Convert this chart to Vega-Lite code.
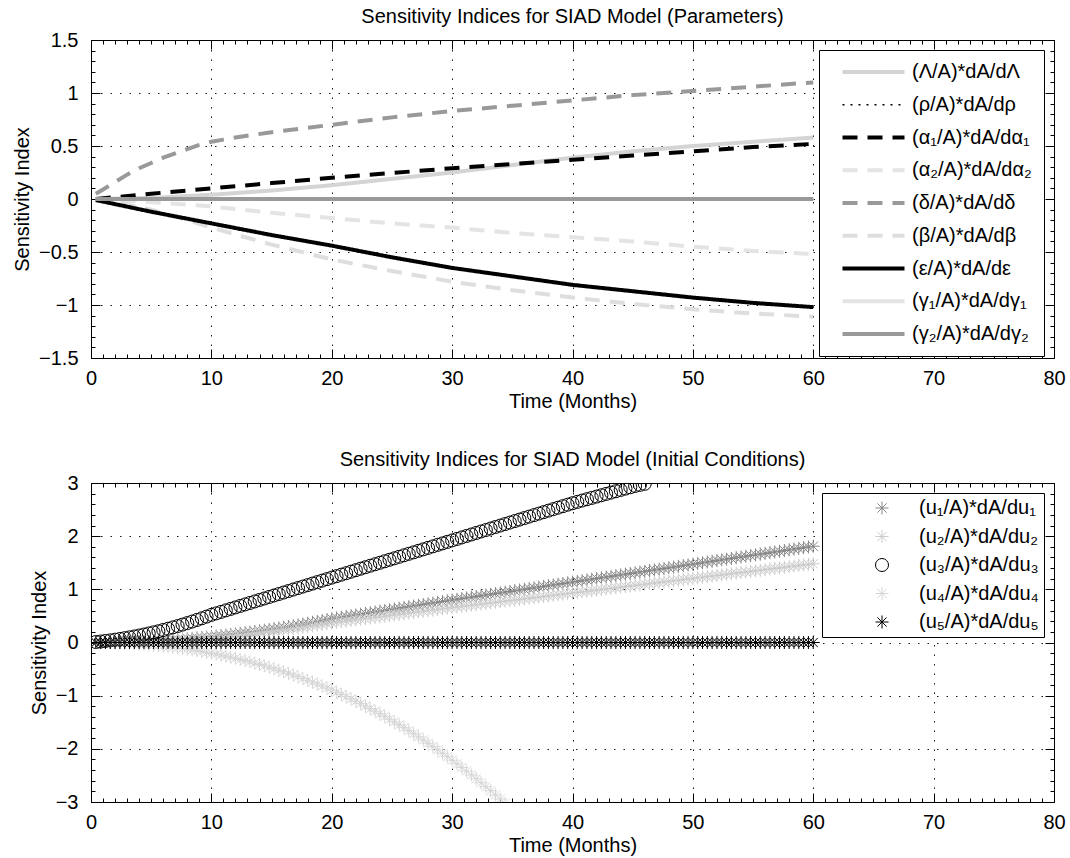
{
  "$schema": "https://vega.github.io/schema/vega-lite/v6.json",
  "background": "white",
  "padding": {"left": 12, "top": 7, "right": 4, "bottom": 4},
  "bounds": "flush",
  "spacing": 125,
  "resolve": {"scale": {"color": "independent", "strokeDash": "independent", "shape": "independent"}, "legend": {"color": "independent", "strokeDash": "independent", "shape": "independent"}},
  "config": {
    "font": "Liberation Sans",
    "view": {"stroke": null},
    "axis": {
      "labelFont": "Liberation Sans", "labelFontSize": 20, "labelColor": "black",
      "titleFont": "Liberation Sans", "titleFontSize": 20, "titleFontWeight": "normal", "titleColor": "black",
      "domainColor": "black", "domainWidth": 1, "tickColor": "black", "tickWidth": 1, "tickSize": -9,
      "gridColor": "black", "gridDash": [1.5, 8], "gridWidth": 1, "gridOpacity": 0.9, "grid": false,
      "labelFlush": false, "labelOverlap": false, "labelPadding": 19
    },
    "axisY": {"labelPadding": 22, "titlePadding": 6},
    "axisX": {"titlePadding": 3},
    "title": {"font": "Liberation Sans", "fontSize": 20, "fontWeight": "normal", "color": "black", "offset": 3, "anchor": "middle"},
    "legend": {"labelFont": "Liberation Sans", "labelFontSize": 20, "labelColor": "black", "strokeColor": "black", "fillColor": "white", "labelLimit": 400}
  },
  "vconcat": [
    {
      "width": 963, "height": 318,
      "title": "Sensitivity Indices for SIAD Model (Parameters)",
      "data": {"values": [
        {"s":"L","t":0.4,"v":0},{"s":"L","t":5,"v":0.01},{"s":"L","t":10,"v":0.04},{"s":"L","t":15,"v":0.08},{"s":"L","t":20,"v":0.13},{"s":"L","t":25,"v":0.19},{"s":"L","t":30,"v":0.25},{"s":"L","t":35,"v":0.32},{"s":"L","t":40,"v":0.39},{"s":"L","t":45,"v":0.45},{"s":"L","t":50,"v":0.5},{"s":"L","t":55,"v":0.54},{"s":"L","t":60,"v":0.58},
        {"s":"rho","t":0.4,"v":0},{"s":"rho","t":60,"v":0},
        {"s":"a1","t":0.4,"v":0},{"s":"a1","t":5,"v":0.05},{"s":"a1","t":10,"v":0.1},{"s":"a1","t":15,"v":0.15},{"s":"a1","t":20,"v":0.2},{"s":"a1","t":25,"v":0.245},{"s":"a1","t":30,"v":0.29},{"s":"a1","t":35,"v":0.33},{"s":"a1","t":40,"v":0.37},{"s":"a1","t":45,"v":0.41},{"s":"a1","t":50,"v":0.45},{"s":"a1","t":55,"v":0.49},{"s":"a1","t":60,"v":0.52},
        {"s":"a2","t":0.4,"v":0},{"s":"a2","t":5,"v":-0.03},{"s":"a2","t":10,"v":-0.07},{"s":"a2","t":15,"v":-0.13},{"s":"a2","t":20,"v":-0.18},{"s":"a2","t":25,"v":-0.23},{"s":"a2","t":30,"v":-0.27},{"s":"a2","t":35,"v":-0.32},{"s":"a2","t":40,"v":-0.36},{"s":"a2","t":45,"v":-0.4},{"s":"a2","t":50,"v":-0.45},{"s":"a2","t":55,"v":-0.49},{"s":"a2","t":60,"v":-0.52},
        {"s":"d","t":0.4,"v":0.05},{"s":"d","t":1,"v":0.09},{"s":"d","t":2,"v":0.16},{"s":"d","t":3,"v":0.23},{"s":"d","t":4,"v":0.29},{"s":"d","t":5,"v":0.34},{"s":"d","t":6,"v":0.39},{"s":"d","t":7,"v":0.43},{"s":"d","t":8,"v":0.47},{"s":"d","t":9,"v":0.51},{"s":"d","t":10,"v":0.54},{"s":"d","t":11,"v":0.56},{"s":"d","t":12,"v":0.58},{"s":"d","t":15,"v":0.63},{"s":"d","t":20,"v":0.7},{"s":"d","t":25,"v":0.77},{"s":"d","t":30,"v":0.83},{"s":"d","t":35,"v":0.88},{"s":"d","t":40,"v":0.93},{"s":"d","t":45,"v":0.98},{"s":"d","t":50,"v":1.02},{"s":"d","t":55,"v":1.06},{"s":"d","t":60,"v":1.1},
        {"s":"b","t":0.4,"v":0},{"s":"b","t":2,"v":-0.03},{"s":"b","t":5,"v":-0.1},{"s":"b","t":8,"v":-0.2},{"s":"b","t":10,"v":-0.27},{"s":"b","t":15,"v":-0.43},{"s":"b","t":20,"v":-0.57},{"s":"b","t":25,"v":-0.68},{"s":"b","t":30,"v":-0.78},{"s":"b","t":35,"v":-0.86},{"s":"b","t":40,"v":-0.93},{"s":"b","t":45,"v":-0.99},{"s":"b","t":50,"v":-1.04},{"s":"b","t":55,"v":-1.08},{"s":"b","t":60,"v":-1.11},
        {"s":"e","t":0.4,"v":-0.01},{"s":"e","t":5,"v":-0.12},{"s":"e","t":10,"v":-0.23},{"s":"e","t":15,"v":-0.34},{"s":"e","t":20,"v":-0.44},{"s":"e","t":25,"v":-0.55},{"s":"e","t":30,"v":-0.65},{"s":"e","t":35,"v":-0.73},{"s":"e","t":40,"v":-0.81},{"s":"e","t":45,"v":-0.87},{"s":"e","t":50,"v":-0.93},{"s":"e","t":55,"v":-0.98},{"s":"e","t":60,"v":-1.02},
        {"s":"g1","t":0.4,"v":0},{"s":"g1","t":60,"v":0},
        {"s":"g2","t":0.4,"v":0},{"s":"g2","t":60,"v":0}
      ]},
      "layer": [
        {
          "mark": {"type": "line", "clip": true, "strokeCap": "butt"},
          "encoding": {
            "x": {"field": "t", "type": "quantitative", "scale": {"domain": [0, 80], "nice": false, "zero": false},
                  "axis": {"orient": "bottom", "values": [0,10,20,30,40,50,60,70,80], "title": "Time (Months)", "grid": true}},
            "y": {"field": "v", "type": "quantitative", "scale": {"domain": [-1.5, 1.5], "nice": false, "zero": false},
                  "axis": {"orient": "left", "values": [-1.5,-1,-0.5,0,0.5,1,1.5], "format": "~g", "title": "Sensitivity Index", "grid": true}},
            "color": {"field": "s", "type": "nominal",
                      "scale": {"domain": ["L","rho","a1","a2","d","b","e","g1","g2"], "range": ["#d4d4d4","#000000","#000000","#e4e4e4","#999999","#dedede","#000000","#e4e4e4","#999999"]},
                      "legend": {"title": " ", "titleOrient": "left", "titleFontSize": 1, "titlePadding": 18, "orient": "top-right", "offset": 10, "padding": 12, "symbolType": "stroke", "symbolSize": 3844, "symbolStrokeWidth": 4, "labelOffset": 28.5, "rowPadding": 12.75, "symbolOffset": 14.5,
                                 "labelExpr": "{'L':'(Λ/A)*dA/dΛ','rho':'(ρ/A)*dA/dρ','a1':'(α₁/A)*dA/dα₁','a2':'(α₂/A)*dA/dα₂','d':'(δ/A)*dA/dδ','b':'(β/A)*dA/dβ','e':'(ε/A)*dA/dε','g1':'(γ₁/A)*dA/dγ₁','g2':'(γ₂/A)*dA/dγ₂'}[datum.value]",
                                 "encode": {"symbols": {"update": {
                                   "strokeWidth": {"signal": "datum.value === 'rho' ? 1.5 : 4"},
                                   "strokeDash": {"signal": "datum.value === 'rho' ? [2,6] : ((datum.value === 'a1' || datum.value === 'a2' || datum.value === 'd' || datum.value === 'b') ? [15,10] : [1,0])"}
                                 }}}}},
            "strokeDash": {"field": "s", "type": "nominal",
                      "scale": {"domain": ["L","rho","a1","a2","d","b","e","g1","g2"], "range": [[1,0],[2,6],[15,10],[15,10],[15,10],[15,10],[1,0],[1,0],[1,0]]},
                      "legend": null},
            "strokeWidth": {"condition": {"test": "datum.s === 'rho'", "value": 1.5}, "value": 4}
          }
        },
        {
          "mark": {"type": "line", "opacity": 0},
          "encoding": {
            "x": {"field": "t", "type": "quantitative", "axis": {"orient": "bottom", "values": [1,2,3,4,5,6,7,8,9,11,12,13,14,15,16,17,18,19,21,22,23,24,25,26,27,28,29,31,32,33,34,35,36,37,38,39,41,42,43,44,45,46,47,48,49,51,52,53,54,55,56,57,58,59,61,62,63,64,65,66,67,68,69,71,72,73,74,75,76,77,78,79], "labels": false, "domain": false, "title": null, "tickSize": -4}},
            "y": {"field": "v", "type": "quantitative", "axis": {"orient": "left", "values": [-1.4,-1.3,-1.2,-1.1,-0.9,-0.8,-0.7,-0.6,-0.4,-0.3,-0.2,-0.1,0.1,0.2,0.3,0.4,0.6,0.7,0.8,0.9,1.1,1.2,1.3,1.4], "labels": false, "domain": false, "title": null, "tickSize": -4}},
            "detail": {"field": "s"}
          }
        },
        {
          "mark": {"type": "line", "opacity": 0},
          "encoding": {
            "x": {"field": "t", "type": "quantitative", "axis": {"orient": "top", "values": [0,10,20,30,40,50,60,70,80], "labels": false, "title": null}},
            "y": {"field": "v", "type": "quantitative", "axis": {"orient": "right", "values": [-1.5,-1,-0.5,0,0.5,1,1.5], "labels": false, "title": null}},
            "detail": {"field": "s"}
          }
        },
        {
          "mark": {"type": "line", "opacity": 0},
          "encoding": {
            "x": {"field": "t", "type": "quantitative", "axis": {"orient": "top", "values": [1,2,3,4,5,6,7,8,9,11,12,13,14,15,16,17,18,19,21,22,23,24,25,26,27,28,29,31,32,33,34,35,36,37,38,39,41,42,43,44,45,46,47,48,49,51,52,53,54,55,56,57,58,59,61,62,63,64,65,66,67,68,69,71,72,73,74,75,76,77,78,79], "labels": false, "domain": false, "title": null, "tickSize": -4}},
            "y": {"field": "v", "type": "quantitative", "axis": {"orient": "right", "values": [-1.4,-1.3,-1.2,-1.1,-0.9,-0.8,-0.7,-0.6,-0.4,-0.3,-0.2,-0.1,0.1,0.2,0.3,0.4,0.6,0.7,0.8,0.9,1.1,1.2,1.3,1.4], "labels": false, "domain": false, "title": null, "tickSize": -4}},
            "detail": {"field": "s"}
          }
        }
      ],
      "resolve": {"axis": {"x": "independent", "y": "independent"}}
    },
    {
      "width": 963, "height": 319,
      "title": "Sensitivity Indices for SIAD Model (Initial Conditions)",
      "data": {"values": [
        {"s":"u1","t":0.4,"v":0},{"s":"u1","t":0.8,"v":0.001},{"s":"u1","t":1.2,"v":0.002},{"s":"u1","t":1.6,"v":0.003},{"s":"u1","t":2,"v":0.004},{"s":"u1","t":2.4,"v":0.006},{"s":"u1","t":2.8,"v":0.009},{"s":"u1","t":3.2,"v":0.011},{"s":"u1","t":3.6,"v":0.015},{"s":"u1","t":4,"v":0.018},
        {"s":"u1","t":4.4,"v":0.022},{"s":"u1","t":4.8,"v":0.026},{"s":"u1","t":5.2,"v":0.03},{"s":"u1","t":5.6,"v":0.035},{"s":"u1","t":6,"v":0.04},{"s":"u1","t":6.4,"v":0.046},{"s":"u1","t":6.8,"v":0.052},{"s":"u1","t":7.2,"v":0.058},{"s":"u1","t":7.6,"v":0.065},{"s":"u1","t":8,"v":0.072},
        {"s":"u1","t":8.4,"v":0.079},{"s":"u1","t":8.8,"v":0.087},{"s":"u1","t":9.2,"v":0.095},{"s":"u1","t":9.6,"v":0.103},{"s":"u1","t":10,"v":0.112},{"s":"u1","t":10.4,"v":0.121},{"s":"u1","t":10.8,"v":0.131},{"s":"u1","t":11.2,"v":0.14},{"s":"u1","t":11.6,"v":0.151},{"s":"u1","t":12,"v":0.161},
        {"s":"u1","t":12.4,"v":0.172},{"s":"u1","t":12.8,"v":0.184},{"s":"u1","t":13.2,"v":0.195},{"s":"u1","t":13.6,"v":0.207},{"s":"u1","t":14,"v":0.22},{"s":"u1","t":14.4,"v":0.232},{"s":"u1","t":14.8,"v":0.245},{"s":"u1","t":15.2,"v":0.259},{"s":"u1","t":15.6,"v":0.273},{"s":"u1","t":16,"v":0.287},
        {"s":"u1","t":16.4,"v":0.301},{"s":"u1","t":16.8,"v":0.316},{"s":"u1","t":17.2,"v":0.331},{"s":"u1","t":17.6,"v":0.347},{"s":"u1","t":18,"v":0.363},{"s":"u1","t":18.4,"v":0.379},{"s":"u1","t":18.8,"v":0.396},{"s":"u1","t":19.2,"v":0.413},{"s":"u1","t":19.6,"v":0.43},{"s":"u1","t":20,"v":0.448},
        {"s":"u1","t":20.4,"v":0.462},{"s":"u1","t":20.8,"v":0.476},{"s":"u1","t":21.2,"v":0.49},{"s":"u1","t":21.6,"v":0.504},{"s":"u1","t":22,"v":0.518},{"s":"u1","t":22.4,"v":0.532},{"s":"u1","t":22.8,"v":0.546},{"s":"u1","t":23.2,"v":0.56},{"s":"u1","t":23.6,"v":0.574},{"s":"u1","t":24,"v":0.588},
        {"s":"u1","t":24.4,"v":0.602},{"s":"u1","t":24.8,"v":0.616},{"s":"u1","t":25.2,"v":0.63},{"s":"u1","t":25.6,"v":0.644},{"s":"u1","t":26,"v":0.658},{"s":"u1","t":26.4,"v":0.672},{"s":"u1","t":26.8,"v":0.686},{"s":"u1","t":27.2,"v":0.7},{"s":"u1","t":27.6,"v":0.714},{"s":"u1","t":28,"v":0.728},
        {"s":"u1","t":28.4,"v":0.742},{"s":"u1","t":28.8,"v":0.756},{"s":"u1","t":29.2,"v":0.77},{"s":"u1","t":29.6,"v":0.784},{"s":"u1","t":30,"v":0.798},{"s":"u1","t":30.4,"v":0.812},{"s":"u1","t":30.8,"v":0.825},{"s":"u1","t":31.2,"v":0.839},{"s":"u1","t":31.6,"v":0.852},{"s":"u1","t":32,"v":0.866},
        {"s":"u1","t":32.4,"v":0.879},{"s":"u1","t":32.8,"v":0.893},{"s":"u1","t":33.2,"v":0.906},{"s":"u1","t":33.6,"v":0.92},{"s":"u1","t":34,"v":0.933},{"s":"u1","t":34.4,"v":0.947},{"s":"u1","t":34.8,"v":0.96},{"s":"u1","t":35.2,"v":0.974},{"s":"u1","t":35.6,"v":0.987},{"s":"u1","t":36,"v":1.001},
        {"s":"u1","t":36.4,"v":1.014},{"s":"u1","t":36.8,"v":1.028},{"s":"u1","t":37.2,"v":1.041},{"s":"u1","t":37.6,"v":1.055},{"s":"u1","t":38,"v":1.068},{"s":"u1","t":38.4,"v":1.082},{"s":"u1","t":38.8,"v":1.095},{"s":"u1","t":39.2,"v":1.109},{"s":"u1","t":39.6,"v":1.122},{"s":"u1","t":40,"v":1.136},
        {"s":"u1","t":40.4,"v":1.149},{"s":"u1","t":40.8,"v":1.163},{"s":"u1","t":41.2,"v":1.176},{"s":"u1","t":41.6,"v":1.19},{"s":"u1","t":42,"v":1.203},{"s":"u1","t":42.4,"v":1.217},{"s":"u1","t":42.8,"v":1.23},{"s":"u1","t":43.2,"v":1.244},{"s":"u1","t":43.6,"v":1.257},{"s":"u1","t":44,"v":1.271},
        {"s":"u1","t":44.4,"v":1.284},{"s":"u1","t":44.8,"v":1.298},{"s":"u1","t":45.2,"v":1.311},{"s":"u1","t":45.6,"v":1.325},{"s":"u1","t":46,"v":1.338},{"s":"u1","t":46.4,"v":1.352},{"s":"u1","t":46.8,"v":1.365},{"s":"u1","t":47.2,"v":1.379},{"s":"u1","t":47.6,"v":1.392},{"s":"u1","t":48,"v":1.406},
        {"s":"u1","t":48.4,"v":1.419},{"s":"u1","t":48.8,"v":1.433},{"s":"u1","t":49.2,"v":1.446},{"s":"u1","t":49.6,"v":1.46},{"s":"u1","t":50,"v":1.473},{"s":"u1","t":50.4,"v":1.487},{"s":"u1","t":50.8,"v":1.5},{"s":"u1","t":51.2,"v":1.514},{"s":"u1","t":51.6,"v":1.527},{"s":"u1","t":52,"v":1.541},
        {"s":"u1","t":52.4,"v":1.554},{"s":"u1","t":52.8,"v":1.568},{"s":"u1","t":53.2,"v":1.581},{"s":"u1","t":53.6,"v":1.595},{"s":"u1","t":54,"v":1.608},{"s":"u1","t":54.4,"v":1.622},{"s":"u1","t":54.8,"v":1.635},{"s":"u1","t":55.2,"v":1.649},{"s":"u1","t":55.6,"v":1.662},{"s":"u1","t":56,"v":1.676},
        {"s":"u1","t":56.4,"v":1.689},{"s":"u1","t":56.8,"v":1.703},{"s":"u1","t":57.2,"v":1.716},{"s":"u1","t":57.6,"v":1.73},{"s":"u1","t":58,"v":1.743},{"s":"u1","t":58.4,"v":1.757},{"s":"u1","t":58.8,"v":1.77},{"s":"u1","t":59.2,"v":1.784},{"s":"u1","t":59.6,"v":1.797},{"s":"u1","t":60,"v":1.811},
        {"s":"u2","t":0.4,"v":0},{"s":"u2","t":0.8,"v":0.001},{"s":"u2","t":1.2,"v":0.001},{"s":"u2","t":1.6,"v":0.002},{"s":"u2","t":2,"v":0.004},{"s":"u2","t":2.4,"v":0.005},{"s":"u2","t":2.8,"v":0.007},{"s":"u2","t":3.2,"v":0.009},{"s":"u2","t":3.6,"v":0.012},{"s":"u2","t":4,"v":0.015},
        {"s":"u2","t":4.4,"v":0.018},{"s":"u2","t":4.8,"v":0.021},{"s":"u2","t":5.2,"v":0.025},{"s":"u2","t":5.6,"v":0.029},{"s":"u2","t":6,"v":0.033},{"s":"u2","t":6.4,"v":0.038},{"s":"u2","t":6.8,"v":0.043},{"s":"u2","t":7.2,"v":0.048},{"s":"u2","t":7.6,"v":0.053},{"s":"u2","t":8,"v":0.059},
        {"s":"u2","t":8.4,"v":0.065},{"s":"u2","t":8.8,"v":0.071},{"s":"u2","t":9.2,"v":0.078},{"s":"u2","t":9.6,"v":0.085},{"s":"u2","t":10,"v":0.092},{"s":"u2","t":10.4,"v":0.1},{"s":"u2","t":10.8,"v":0.107},{"s":"u2","t":11.2,"v":0.115},{"s":"u2","t":11.6,"v":0.124},{"s":"u2","t":12,"v":0.132},
        {"s":"u2","t":12.4,"v":0.141},{"s":"u2","t":12.8,"v":0.151},{"s":"u2","t":13.2,"v":0.16},{"s":"u2","t":13.6,"v":0.17},{"s":"u2","t":14,"v":0.18},{"s":"u2","t":14.4,"v":0.191},{"s":"u2","t":14.8,"v":0.202},{"s":"u2","t":15.2,"v":0.213},{"s":"u2","t":15.6,"v":0.224},{"s":"u2","t":16,"v":0.236},
        {"s":"u2","t":16.4,"v":0.247},{"s":"u2","t":16.8,"v":0.26},{"s":"u2","t":17.2,"v":0.272},{"s":"u2","t":17.6,"v":0.285},{"s":"u2","t":18,"v":0.298},{"s":"u2","t":18.4,"v":0.311},{"s":"u2","t":18.8,"v":0.325},{"s":"u2","t":19.2,"v":0.339},{"s":"u2","t":19.6,"v":0.353},{"s":"u2","t":20,"v":0.368},
        {"s":"u2","t":20.4,"v":0.38},{"s":"u2","t":20.8,"v":0.391},{"s":"u2","t":21.2,"v":0.403},{"s":"u2","t":21.6,"v":0.414},{"s":"u2","t":22,"v":0.426},{"s":"u2","t":22.4,"v":0.437},{"s":"u2","t":22.8,"v":0.449},{"s":"u2","t":23.2,"v":0.46},{"s":"u2","t":23.6,"v":0.472},{"s":"u2","t":24,"v":0.483},
        {"s":"u2","t":24.4,"v":0.495},{"s":"u2","t":24.8,"v":0.506},{"s":"u2","t":25.2,"v":0.518},{"s":"u2","t":25.6,"v":0.529},{"s":"u2","t":26,"v":0.541},{"s":"u2","t":26.4,"v":0.552},{"s":"u2","t":26.8,"v":0.564},{"s":"u2","t":27.2,"v":0.575},{"s":"u2","t":27.6,"v":0.587},{"s":"u2","t":28,"v":0.598},
        {"s":"u2","t":28.4,"v":0.61},{"s":"u2","t":28.8,"v":0.621},{"s":"u2","t":29.2,"v":0.633},{"s":"u2","t":29.6,"v":0.644},{"s":"u2","t":30,"v":0.656},{"s":"u2","t":30.4,"v":0.667},{"s":"u2","t":30.8,"v":0.678},{"s":"u2","t":31.2,"v":0.689},{"s":"u2","t":31.6,"v":0.7},{"s":"u2","t":32,"v":0.711},
        {"s":"u2","t":32.4,"v":0.722},{"s":"u2","t":32.8,"v":0.733},{"s":"u2","t":33.2,"v":0.744},{"s":"u2","t":33.6,"v":0.755},{"s":"u2","t":34,"v":0.766},{"s":"u2","t":34.4,"v":0.777},{"s":"u2","t":34.8,"v":0.788},{"s":"u2","t":35.2,"v":0.799},{"s":"u2","t":35.6,"v":0.81},{"s":"u2","t":36,"v":0.821},
        {"s":"u2","t":36.4,"v":0.832},{"s":"u2","t":36.8,"v":0.843},{"s":"u2","t":37.2,"v":0.854},{"s":"u2","t":37.6,"v":0.865},{"s":"u2","t":38,"v":0.876},{"s":"u2","t":38.4,"v":0.887},{"s":"u2","t":38.8,"v":0.898},{"s":"u2","t":39.2,"v":0.909},{"s":"u2","t":39.6,"v":0.92},{"s":"u2","t":40,"v":0.931},
        {"s":"u2","t":40.4,"v":0.942},{"s":"u2","t":40.8,"v":0.953},{"s":"u2","t":41.2,"v":0.964},{"s":"u2","t":41.6,"v":0.975},{"s":"u2","t":42,"v":0.986},{"s":"u2","t":42.4,"v":0.997},{"s":"u2","t":42.8,"v":1.008},{"s":"u2","t":43.2,"v":1.019},{"s":"u2","t":43.6,"v":1.03},{"s":"u2","t":44,"v":1.041},
        {"s":"u2","t":44.4,"v":1.052},{"s":"u2","t":44.8,"v":1.063},{"s":"u2","t":45.2,"v":1.074},{"s":"u2","t":45.6,"v":1.085},{"s":"u2","t":46,"v":1.096},{"s":"u2","t":46.4,"v":1.107},{"s":"u2","t":46.8,"v":1.118},{"s":"u2","t":47.2,"v":1.129},{"s":"u2","t":47.6,"v":1.14},{"s":"u2","t":48,"v":1.151},
        {"s":"u2","t":48.4,"v":1.162},{"s":"u2","t":48.8,"v":1.173},{"s":"u2","t":49.2,"v":1.184},{"s":"u2","t":49.6,"v":1.195},{"s":"u2","t":50,"v":1.206},{"s":"u2","t":50.4,"v":1.217},{"s":"u2","t":50.8,"v":1.228},{"s":"u2","t":51.2,"v":1.239},{"s":"u2","t":51.6,"v":1.25},{"s":"u2","t":52,"v":1.261},
        {"s":"u2","t":52.4,"v":1.272},{"s":"u2","t":52.8,"v":1.283},{"s":"u2","t":53.2,"v":1.294},{"s":"u2","t":53.6,"v":1.305},{"s":"u2","t":54,"v":1.316},{"s":"u2","t":54.4,"v":1.327},{"s":"u2","t":54.8,"v":1.338},{"s":"u2","t":55.2,"v":1.349},{"s":"u2","t":55.6,"v":1.36},{"s":"u2","t":56,"v":1.371},
        {"s":"u2","t":56.4,"v":1.382},{"s":"u2","t":56.8,"v":1.393},{"s":"u2","t":57.2,"v":1.404},{"s":"u2","t":57.6,"v":1.415},{"s":"u2","t":58,"v":1.426},{"s":"u2","t":58.4,"v":1.437},{"s":"u2","t":58.8,"v":1.448},{"s":"u2","t":59.2,"v":1.459},{"s":"u2","t":59.6,"v":1.47},{"s":"u2","t":60,"v":1.481},
        {"s":"u3","t":0.4,"v":0.009},{"s":"u3","t":0.8,"v":0.018},{"s":"u3","t":1.2,"v":0.029},{"s":"u3","t":1.6,"v":0.04},{"s":"u3","t":2,"v":0.053},{"s":"u3","t":2.4,"v":0.066},{"s":"u3","t":2.8,"v":0.081},{"s":"u3","t":3.2,"v":0.097},{"s":"u3","t":3.6,"v":0.113},{"s":"u3","t":4,"v":0.131},
        {"s":"u3","t":4.4,"v":0.15},{"s":"u3","t":4.8,"v":0.17},{"s":"u3","t":5.2,"v":0.191},{"s":"u3","t":5.6,"v":0.212},{"s":"u3","t":6,"v":0.235},{"s":"u3","t":6.4,"v":0.259},{"s":"u3","t":6.8,"v":0.284},{"s":"u3","t":7.2,"v":0.31},{"s":"u3","t":7.6,"v":0.337},{"s":"u3","t":8,"v":0.365},
        {"s":"u3","t":8.4,"v":0.394},{"s":"u3","t":8.8,"v":0.424},{"s":"u3","t":9.2,"v":0.455},{"s":"u3","t":9.6,"v":0.487},{"s":"u3","t":10,"v":0.52},{"s":"u3","t":10.4,"v":0.548},{"s":"u3","t":10.8,"v":0.576},{"s":"u3","t":11.2,"v":0.604},{"s":"u3","t":11.6,"v":0.632},{"s":"u3","t":12,"v":0.66},
        {"s":"u3","t":12.4,"v":0.688},{"s":"u3","t":12.8,"v":0.716},{"s":"u3","t":13.2,"v":0.744},{"s":"u3","t":13.6,"v":0.772},{"s":"u3","t":14,"v":0.8},{"s":"u3","t":14.4,"v":0.828},{"s":"u3","t":14.8,"v":0.856},{"s":"u3","t":15.2,"v":0.884},{"s":"u3","t":15.6,"v":0.912},{"s":"u3","t":16,"v":0.94},
        {"s":"u3","t":16.4,"v":0.968},{"s":"u3","t":16.8,"v":0.996},{"s":"u3","t":17.2,"v":1.024},{"s":"u3","t":17.6,"v":1.052},{"s":"u3","t":18,"v":1.08},{"s":"u3","t":18.4,"v":1.108},{"s":"u3","t":18.8,"v":1.136},{"s":"u3","t":19.2,"v":1.164},{"s":"u3","t":19.6,"v":1.192},{"s":"u3","t":20,"v":1.22},
        {"s":"u3","t":20.4,"v":1.248},{"s":"u3","t":20.8,"v":1.276},{"s":"u3","t":21.2,"v":1.304},{"s":"u3","t":21.6,"v":1.332},{"s":"u3","t":22,"v":1.36},{"s":"u3","t":22.4,"v":1.388},{"s":"u3","t":22.8,"v":1.416},{"s":"u3","t":23.2,"v":1.444},{"s":"u3","t":23.6,"v":1.472},{"s":"u3","t":24,"v":1.5},
        {"s":"u3","t":24.4,"v":1.528},{"s":"u3","t":24.8,"v":1.556},{"s":"u3","t":25.2,"v":1.584},{"s":"u3","t":25.6,"v":1.612},{"s":"u3","t":26,"v":1.64},{"s":"u3","t":26.4,"v":1.668},{"s":"u3","t":26.8,"v":1.696},{"s":"u3","t":27.2,"v":1.724},{"s":"u3","t":27.6,"v":1.752},{"s":"u3","t":28,"v":1.78},
        {"s":"u3","t":28.4,"v":1.808},{"s":"u3","t":28.8,"v":1.836},{"s":"u3","t":29.2,"v":1.864},{"s":"u3","t":29.6,"v":1.892},{"s":"u3","t":30,"v":1.92},{"s":"u3","t":30.4,"v":1.948},{"s":"u3","t":30.8,"v":1.976},{"s":"u3","t":31.2,"v":2.004},{"s":"u3","t":31.6,"v":2.032},{"s":"u3","t":32,"v":2.06},
        {"s":"u3","t":32.4,"v":2.088},{"s":"u3","t":32.8,"v":2.116},{"s":"u3","t":33.2,"v":2.144},{"s":"u3","t":33.6,"v":2.172},{"s":"u3","t":34,"v":2.2},{"s":"u3","t":34.4,"v":2.228},{"s":"u3","t":34.8,"v":2.256},{"s":"u3","t":35.2,"v":2.284},{"s":"u3","t":35.6,"v":2.312},{"s":"u3","t":36,"v":2.34},
        {"s":"u3","t":36.4,"v":2.368},{"s":"u3","t":36.8,"v":2.396},{"s":"u3","t":37.2,"v":2.424},{"s":"u3","t":37.6,"v":2.452},{"s":"u3","t":38,"v":2.48},{"s":"u3","t":38.4,"v":2.508},{"s":"u3","t":38.8,"v":2.536},{"s":"u3","t":39.2,"v":2.564},{"s":"u3","t":39.6,"v":2.592},{"s":"u3","t":40,"v":2.62},
        {"s":"u3","t":40.4,"v":2.645},{"s":"u3","t":40.8,"v":2.67},{"s":"u3","t":41.2,"v":2.695},{"s":"u3","t":41.6,"v":2.72},{"s":"u3","t":42,"v":2.745},{"s":"u3","t":42.4,"v":2.77},{"s":"u3","t":42.8,"v":2.795},{"s":"u3","t":43.2,"v":2.82},{"s":"u3","t":43.6,"v":2.845},{"s":"u3","t":44,"v":2.87},
        {"s":"u3","t":44.4,"v":2.895},{"s":"u3","t":44.8,"v":2.92},{"s":"u3","t":45.2,"v":2.945},{"s":"u3","t":45.6,"v":2.965},{"s":"u3","t":46,"v":2.985},
        {"s":"u4","t":0.4,"v":0},{"s":"u4","t":0.8,"v":-0.001},{"s":"u4","t":1.2,"v":-0.003},{"s":"u4","t":1.6,"v":-0.005},{"s":"u4","t":2,"v":-0.007},{"s":"u4","t":2.4,"v":-0.011},{"s":"u4","t":2.8,"v":-0.015},{"s":"u4","t":3.2,"v":-0.019},{"s":"u4","t":3.6,"v":-0.024},{"s":"u4","t":4,"v":-0.03},
        {"s":"u4","t":4.4,"v":-0.037},{"s":"u4","t":4.8,"v":-0.044},{"s":"u4","t":5.2,"v":-0.052},{"s":"u4","t":5.6,"v":-0.06},{"s":"u4","t":6,"v":-0.07},{"s":"u4","t":6.4,"v":-0.08},{"s":"u4","t":6.8,"v":-0.09},{"s":"u4","t":7.2,"v":-0.102},{"s":"u4","t":7.6,"v":-0.114},{"s":"u4","t":8,"v":-0.126},
        {"s":"u4","t":8.4,"v":-0.14},{"s":"u4","t":8.8,"v":-0.154},{"s":"u4","t":9.2,"v":-0.169},{"s":"u4","t":9.6,"v":-0.185},{"s":"u4","t":10,"v":-0.202},{"s":"u4","t":10.4,"v":-0.219},{"s":"u4","t":10.8,"v":-0.238},{"s":"u4","t":11.2,"v":-0.257},{"s":"u4","t":11.6,"v":-0.277},{"s":"u4","t":12,"v":-0.297},
        {"s":"u4","t":12.4,"v":-0.319},{"s":"u4","t":12.8,"v":-0.341},{"s":"u4","t":13.2,"v":-0.364},{"s":"u4","t":13.6,"v":-0.388},{"s":"u4","t":14,"v":-0.413},{"s":"u4","t":14.4,"v":-0.439},{"s":"u4","t":14.8,"v":-0.466},{"s":"u4","t":15.2,"v":-0.493},{"s":"u4","t":15.6,"v":-0.522},{"s":"u4","t":16,"v":-0.551},
        {"s":"u4","t":16.4,"v":-0.581},{"s":"u4","t":16.8,"v":-0.612},{"s":"u4","t":17.2,"v":-0.644},{"s":"u4","t":17.6,"v":-0.678},{"s":"u4","t":18,"v":-0.712},{"s":"u4","t":18.4,"v":-0.746},{"s":"u4","t":18.8,"v":-0.782},{"s":"u4","t":19.2,"v":-0.819},{"s":"u4","t":19.6,"v":-0.857},{"s":"u4","t":20,"v":-0.896},
        {"s":"u4","t":20.4,"v":-0.936},{"s":"u4","t":20.8,"v":-0.977},{"s":"u4","t":21.2,"v":-1.019},{"s":"u4","t":21.6,"v":-1.062},{"s":"u4","t":22,"v":-1.105},{"s":"u4","t":22.4,"v":-1.15},{"s":"u4","t":22.8,"v":-1.196},{"s":"u4","t":23.2,"v":-1.244},{"s":"u4","t":23.6,"v":-1.292},{"s":"u4","t":24,"v":-1.341},
        {"s":"u4","t":24.4,"v":-1.391},{"s":"u4","t":24.8,"v":-1.443},{"s":"u4","t":25.2,"v":-1.495},{"s":"u4","t":25.6,"v":-1.549},{"s":"u4","t":26,"v":-1.603},{"s":"u4","t":26.4,"v":-1.659},{"s":"u4","t":26.8,"v":-1.716},{"s":"u4","t":27.2,"v":-1.774},{"s":"u4","t":27.6,"v":-1.834},{"s":"u4","t":28,"v":-1.894},
        {"s":"u4","t":28.4,"v":-1.956},{"s":"u4","t":28.8,"v":-2.019},{"s":"u4","t":29.2,"v":-2.082},{"s":"u4","t":29.6,"v":-2.148},{"s":"u4","t":30,"v":-2.214},{"s":"u4","t":30.4,"v":-2.282},{"s":"u4","t":30.8,"v":-2.35},{"s":"u4","t":31.2,"v":-2.42},{"s":"u4","t":31.6,"v":-2.492},{"s":"u4","t":32,"v":-2.564},
        {"s":"u4","t":32.4,"v":-2.638},{"s":"u4","t":32.8,"v":-2.713},{"s":"u4","t":33.2,"v":-2.789},{"s":"u4","t":33.6,"v":-2.867},{"s":"u4","t":34,"v":-2.945},{"s":"u4","t":34.4,"v":-3.026},
        {"s":"u5","t":0.4,"v":0},{"s":"u5","t":0.8,"v":0},{"s":"u5","t":1.2,"v":0},{"s":"u5","t":1.6,"v":0},{"s":"u5","t":2,"v":0},{"s":"u5","t":2.4,"v":0},{"s":"u5","t":2.8,"v":0},{"s":"u5","t":3.2,"v":0},{"s":"u5","t":3.6,"v":0},{"s":"u5","t":4,"v":0},
        {"s":"u5","t":4.4,"v":0},{"s":"u5","t":4.8,"v":0},{"s":"u5","t":5.2,"v":0},{"s":"u5","t":5.6,"v":0},{"s":"u5","t":6,"v":0},{"s":"u5","t":6.4,"v":0},{"s":"u5","t":6.8,"v":0},{"s":"u5","t":7.2,"v":0},{"s":"u5","t":7.6,"v":0},{"s":"u5","t":8,"v":0},
        {"s":"u5","t":8.4,"v":0},{"s":"u5","t":8.8,"v":0},{"s":"u5","t":9.2,"v":0},{"s":"u5","t":9.6,"v":0},{"s":"u5","t":10,"v":0},{"s":"u5","t":10.4,"v":0},{"s":"u5","t":10.8,"v":0},{"s":"u5","t":11.2,"v":0},{"s":"u5","t":11.6,"v":0},{"s":"u5","t":12,"v":0},
        {"s":"u5","t":12.4,"v":0},{"s":"u5","t":12.8,"v":0},{"s":"u5","t":13.2,"v":0},{"s":"u5","t":13.6,"v":0},{"s":"u5","t":14,"v":0},{"s":"u5","t":14.4,"v":0},{"s":"u5","t":14.8,"v":0},{"s":"u5","t":15.2,"v":0},{"s":"u5","t":15.6,"v":0},{"s":"u5","t":16,"v":0},
        {"s":"u5","t":16.4,"v":0},{"s":"u5","t":16.8,"v":0},{"s":"u5","t":17.2,"v":0},{"s":"u5","t":17.6,"v":0},{"s":"u5","t":18,"v":0},{"s":"u5","t":18.4,"v":0},{"s":"u5","t":18.8,"v":0},{"s":"u5","t":19.2,"v":0},{"s":"u5","t":19.6,"v":0},{"s":"u5","t":20,"v":0},
        {"s":"u5","t":20.4,"v":0},{"s":"u5","t":20.8,"v":0},{"s":"u5","t":21.2,"v":0},{"s":"u5","t":21.6,"v":0},{"s":"u5","t":22,"v":0},{"s":"u5","t":22.4,"v":0},{"s":"u5","t":22.8,"v":0},{"s":"u5","t":23.2,"v":0},{"s":"u5","t":23.6,"v":0},{"s":"u5","t":24,"v":0},
        {"s":"u5","t":24.4,"v":0},{"s":"u5","t":24.8,"v":0},{"s":"u5","t":25.2,"v":0},{"s":"u5","t":25.6,"v":0},{"s":"u5","t":26,"v":0},{"s":"u5","t":26.4,"v":0},{"s":"u5","t":26.8,"v":0},{"s":"u5","t":27.2,"v":0},{"s":"u5","t":27.6,"v":0},{"s":"u5","t":28,"v":0},
        {"s":"u5","t":28.4,"v":0},{"s":"u5","t":28.8,"v":0},{"s":"u5","t":29.2,"v":0},{"s":"u5","t":29.6,"v":0},{"s":"u5","t":30,"v":0},{"s":"u5","t":30.4,"v":0},{"s":"u5","t":30.8,"v":0},{"s":"u5","t":31.2,"v":0},{"s":"u5","t":31.6,"v":0},{"s":"u5","t":32,"v":0},
        {"s":"u5","t":32.4,"v":0},{"s":"u5","t":32.8,"v":0},{"s":"u5","t":33.2,"v":0},{"s":"u5","t":33.6,"v":0},{"s":"u5","t":34,"v":0},{"s":"u5","t":34.4,"v":0},{"s":"u5","t":34.8,"v":0},{"s":"u5","t":35.2,"v":0},{"s":"u5","t":35.6,"v":0},{"s":"u5","t":36,"v":0},
        {"s":"u5","t":36.4,"v":0},{"s":"u5","t":36.8,"v":0},{"s":"u5","t":37.2,"v":0},{"s":"u5","t":37.6,"v":0},{"s":"u5","t":38,"v":0},{"s":"u5","t":38.4,"v":0},{"s":"u5","t":38.8,"v":0},{"s":"u5","t":39.2,"v":0},{"s":"u5","t":39.6,"v":0},{"s":"u5","t":40,"v":0},
        {"s":"u5","t":40.4,"v":0},{"s":"u5","t":40.8,"v":0},{"s":"u5","t":41.2,"v":0},{"s":"u5","t":41.6,"v":0},{"s":"u5","t":42,"v":0},{"s":"u5","t":42.4,"v":0},{"s":"u5","t":42.8,"v":0},{"s":"u5","t":43.2,"v":0},{"s":"u5","t":43.6,"v":0},{"s":"u5","t":44,"v":0},
        {"s":"u5","t":44.4,"v":0},{"s":"u5","t":44.8,"v":0},{"s":"u5","t":45.2,"v":0},{"s":"u5","t":45.6,"v":0},{"s":"u5","t":46,"v":0},{"s":"u5","t":46.4,"v":0},{"s":"u5","t":46.8,"v":0},{"s":"u5","t":47.2,"v":0},{"s":"u5","t":47.6,"v":0},{"s":"u5","t":48,"v":0},
        {"s":"u5","t":48.4,"v":0},{"s":"u5","t":48.8,"v":0},{"s":"u5","t":49.2,"v":0},{"s":"u5","t":49.6,"v":0},{"s":"u5","t":50,"v":0},{"s":"u5","t":50.4,"v":0},{"s":"u5","t":50.8,"v":0},{"s":"u5","t":51.2,"v":0},{"s":"u5","t":51.6,"v":0},{"s":"u5","t":52,"v":0},
        {"s":"u5","t":52.4,"v":0},{"s":"u5","t":52.8,"v":0},{"s":"u5","t":53.2,"v":0},{"s":"u5","t":53.6,"v":0},{"s":"u5","t":54,"v":0},{"s":"u5","t":54.4,"v":0},{"s":"u5","t":54.8,"v":0},{"s":"u5","t":55.2,"v":0},{"s":"u5","t":55.6,"v":0},{"s":"u5","t":56,"v":0},
        {"s":"u5","t":56.4,"v":0},{"s":"u5","t":56.8,"v":0},{"s":"u5","t":57.2,"v":0},{"s":"u5","t":57.6,"v":0},{"s":"u5","t":58,"v":0},{"s":"u5","t":58.4,"v":0},{"s":"u5","t":58.8,"v":0},{"s":"u5","t":59.2,"v":0},{"s":"u5","t":59.6,"v":0},{"s":"u5","t":60,"v":0}
      ]},
      "layer": [
        {
          "mark": {"type": "point", "filled": false, "strokeWidth": 1, "size": 169, "clip": true, "opacity": 1},
          "encoding": {
            "x": {"field": "t", "type": "quantitative", "scale": {"domain": [0, 80], "nice": false, "zero": false},
                  "axis": {"orient": "bottom", "values": [0,10,20,30,40,50,60,70,80], "title": "Time (Months)", "grid": true}},
            "y": {"field": "v", "type": "quantitative", "scale": {"domain": [-3, 3], "nice": false, "zero": false},
                  "axis": {"orient": "left", "values": [-3,-2,-1,0,1,2,3], "format": "~g", "title": "Sensitivity Index", "grid": true}},
            "color": {"field": "s", "type": "nominal",
                      "scale": {"domain": ["u1","u2","u3","u4","u5"], "range": ["#878787","#cccccc","#000000","#d6d6d6","#000000"]},
                      "legend": {"title": " ", "titleOrient": "left", "titleFontSize": 1, "titlePadding": 24, "orient": "top-right", "offset": 10, "padding": 5, "symbolSize": 169, "symbolStrokeWidth": 1, "labelOffset": 27, "symbolOffset": 21, "rowPadding": 8.5,
                                 "labelExpr": "{'u1':'(u₁/A)*dA/du₁','u2':'(u₂/A)*dA/du₂','u3':'(u₃/A)*dA/du₃','u4':'(u₄/A)*dA/du₄','u5':'(u₅/A)*dA/du₅'}[datum.value]",
                                 "encode": {"symbols": {"update": {
                                   "shape": {"signal": "datum.value === 'u3' ? 'circle' : 'M-1,0L1,0M0,-1L0,1M-0.71,-0.71L0.71,0.71M-0.71,0.71L0.71,-0.71'"},
                                   "fill": {"value": "transparent"}
                                 }}}}},
            "shape": {"field": "s", "type": "nominal",
                      "scale": {"domain": ["u1","u2","u3","u4","u5"], "range": ["M-1,0L1,0M0,-1L0,1M-0.71,-0.71L0.71,0.71M-0.71,0.71L0.71,-0.71","M-1,0L1,0M0,-1L0,1M-0.71,-0.71L0.71,0.71M-0.71,0.71L0.71,-0.71","circle","M-1,0L1,0M0,-1L0,1M-0.71,-0.71L0.71,0.71M-0.71,0.71L0.71,-0.71","M-1,0L1,0M0,-1L0,1M-0.71,-0.71L0.71,0.71M-0.71,0.71L0.71,-0.71"]},
                      "legend": null}
          }
        },
        {
          "mark": {"type": "line", "opacity": 0},
          "encoding": {
            "x": {"field": "t", "type": "quantitative", "axis": {"orient": "bottom", "values": [1,2,3,4,5,6,7,8,9,11,12,13,14,15,16,17,18,19,21,22,23,24,25,26,27,28,29,31,32,33,34,35,36,37,38,39,41,42,43,44,45,46,47,48,49,51,52,53,54,55,56,57,58,59,61,62,63,64,65,66,67,68,69,71,72,73,74,75,76,77,78,79], "labels": false, "domain": false, "title": null, "tickSize": -4}},
            "y": {"field": "v", "type": "quantitative", "axis": {"orient": "left", "values": [-2.8,-2.6,-2.4,-2.2,-1.8,-1.6,-1.4,-1.2,-0.8,-0.6,-0.4,-0.2,0.2,0.4,0.6,0.8,1.2,1.4,1.6,1.8,2.2,2.4,2.6,2.8], "labels": false, "domain": false, "title": null, "tickSize": -4}},
            "detail": {"field": "s"}
          }
        },
        {
          "mark": {"type": "line", "opacity": 0},
          "encoding": {
            "x": {"field": "t", "type": "quantitative", "axis": {"orient": "top", "values": [0,10,20,30,40,50,60,70,80], "labels": false, "title": null}},
            "y": {"field": "v", "type": "quantitative", "axis": {"orient": "right", "values": [-3,-2,-1,0,1,2,3], "labels": false, "title": null}},
            "detail": {"field": "s"}
          }
        },
        {
          "mark": {"type": "line", "opacity": 0},
          "encoding": {
            "x": {"field": "t", "type": "quantitative", "axis": {"orient": "top", "values": [1,2,3,4,5,6,7,8,9,11,12,13,14,15,16,17,18,19,21,22,23,24,25,26,27,28,29,31,32,33,34,35,36,37,38,39,41,42,43,44,45,46,47,48,49,51,52,53,54,55,56,57,58,59,61,62,63,64,65,66,67,68,69,71,72,73,74,75,76,77,78,79], "labels": false, "domain": false, "title": null, "tickSize": -4}},
            "y": {"field": "v", "type": "quantitative", "axis": {"orient": "right", "values": [-2.8,-2.6,-2.4,-2.2,-1.8,-1.6,-1.4,-1.2,-0.8,-0.6,-0.4,-0.2,0.2,0.4,0.6,0.8,1.2,1.4,1.6,1.8,2.2,2.4,2.6,2.8], "labels": false, "domain": false, "title": null, "tickSize": -4}},
            "detail": {"field": "s"}
          }
        }
      ],
      "resolve": {"axis": {"x": "independent", "y": "independent"}}
    }
  ]
}
